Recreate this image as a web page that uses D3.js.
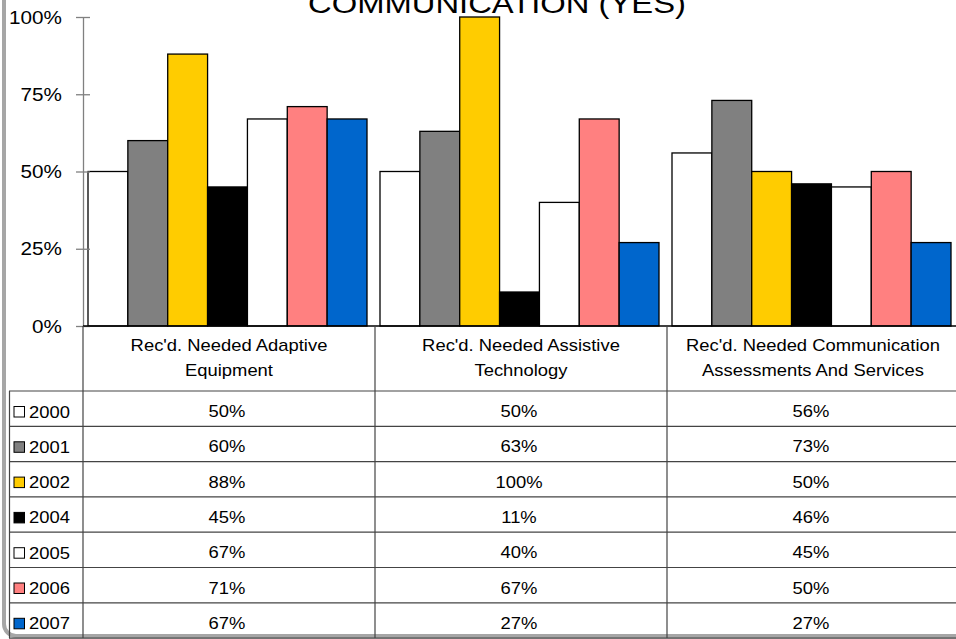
<!DOCTYPE html>
<html>
<head>
<meta charset="utf-8">
<script src="https://cdn.jsdelivr.net/npm/d3@7"></script>
<style>
  html, body { margin: 0; padding: 0; background: #fff; }
  svg { display: block; font-family: "Liberation Sans", Arial, sans-serif; }
</style>
</head>
<body>
<script>
// Categories, series and values
const categories = [
  ["Rec'd. Needed Adaptive", "Equipment"],
  ["Rec'd. Needed Assistive", "Technology"],
  ["Rec'd. Needed Communication", "Assessments And Services"]
];
const years = ["2000", "2001", "2002", "2004", "2005", "2006", "2007"];
const colors = ["#FFFFFF", "#808080", "#FFCC00", "#000000", "#FFFFFF", "#FF8080", "#0066CC"];
const v2000 = [50, 50, 56];
const v2001 = [60, 63, 73];
const v2002 = [88, 100, 50];
const v2004 = [45, 11, 46];
const v2005 = [67, 40, 45];
const v2006 = [71, 67, 50];
const v2007 = [67, 27, 27];
const series = [v2000, v2001, v2002, v2004, v2005, v2006, v2007];
const yTicks = [0, 25, 50, 75, 100];
const title = "COMMUNICATION (YES)";

const W = 956, H = 639;
const svg = d3.select("body").append("svg").attr("width", W).attr("height", H);

// stretched text helper (wide GDI-like lettering)
const SX = 1.15;
function stretched(parent, x, y, txt, size, anchor, k = SX) {
  return parent.append("text")
    .attr("transform", `translate(${x},${y}) scale(${k},1)`)
    .attr("text-anchor", anchor || "middle")
    .attr("font-size", size)
    .attr("fill", "#000")
    .text(txt);
}

const x0 = d3.scaleBand().domain(d3.range(categories.length)).range([83, 959]);
const x1 = d3.scaleBand().domain(years).range([5, 284]);
const y = d3.scaleLinear().domain([0, 100]).range([326, 17]);

// outer frame
svg.append("rect")
  .attr("x", 4).attr("y", -30).attr("width", 1000).attr("height", 666)
  .attr("rx", 12).attr("fill", "none")
  .attr("stroke", "#a6a6a6").attr("stroke-width", 4);

// title
stretched(svg, 497, 13, title, 28, "middle", 1.17);

// bars
const groups = svg.append("g").selectAll("g")
  .data(categories.map((c, i) => i))
  .join("g")
  .attr("transform", i => `translate(${x0(i)},0)`);

groups.selectAll("rect")
  .data(i => years.map((yr, j) => ({ yr, j, v: series[j][i] })))
  .join("rect")
  .attr("x", d => x1(d.yr))
  .attr("y", d => y(d.v))
  .attr("width", x1.bandwidth())
  .attr("height", d => y(0) - y(d.v))
  .attr("fill", d => colors[d.j])
  .attr("stroke", "#000")
  .attr("stroke-width", 1.3);

// y axis
const axis = svg.append("g")
  .attr("transform", "translate(83,0)")
  .call(d3.axisLeft(y).tickValues(yTicks).tickFormat(d => d + "%")
    .tickSize(7).tickSizeOuter(0).tickPadding(14));
axis.select(".domain").attr("stroke", "#808080").attr("stroke-width", 1.3);
axis.selectAll(".tick line").attr("x1", 7).attr("x2", -7)
  .attr("stroke", "#808080").attr("stroke-width", 1.3);
axis.selectAll(".tick text")
  .attr("font-size", 18)
  .attr("font-family", "Liberation Sans, Arial, sans-serif")
  .attr("fill", "#000")
  .attr("dy", null)
  .attr("x", null)
  .attr("transform", `translate(-21,6) scale(${SX},1)`);

// baseline
svg.append("line")
  .attr("x1", 83).attr("x2", 959)
  .attr("y1", y(0)).attr("y2", y(0))
  .attr("stroke", "#000").attr("stroke-width", 1.3);

// data table
const rowTop = 391, rowH = 35.3;
const tableBottom = rowTop + rowH * years.length;
const lineColor = "#444";
const tbl = svg.append("g");

// horizontal rules
tbl.selectAll("line.h")
  .data(d3.range(years.length + 1))
  .join("line")
  .attr("class", "h")
  .attr("x1", 9).attr("x2", W)
  .attr("y1", i => rowTop + i * rowH).attr("y2", i => rowTop + i * rowH)
  .attr("stroke", lineColor).attr("stroke-width", 1.2);

// vertical rules
tbl.append("line").attr("x1", 9.5).attr("x2", 9.5)
  .attr("y1", rowTop).attr("y2", tableBottom)
  .attr("stroke", lineColor).attr("stroke-width", 1.2);
tbl.selectAll("line.v")
  .data(categories.map((c, i) => i))
  .join("line")
  .attr("class", "v")
  .attr("x1", i => x0(i)).attr("x2", i => x0(i))
  .attr("y1", y(0)).attr("y2", tableBottom)
  .attr("stroke", lineColor).attr("stroke-width", 1.2);

// column headers
categories.forEach((lines, i) => {
  const cx = x0(i) + x0.bandwidth() / 2;
  lines.forEach((ln, k) => stretched(tbl, cx, 351 + k * 25, ln, 16, "middle"));
});

// row labels with colour keys
years.forEach((yr, j) => {
  const top = rowTop + j * rowH;
  tbl.append("rect")
    .attr("x", 14).attr("y", top + 15.5)
    .attr("width", 10.5).attr("height", 10.5)
    .attr("fill", colors[j]).attr("stroke", "#000").attr("stroke-width", 1);
  stretched(tbl, 29, top + 26.5, yr, 16, "start");
  categories.forEach((c, i) => {
    const cx = x0(i) + x0.bandwidth() / 2;
    stretched(tbl, cx - 2, top + 26, series[j][i] + "%", 16, "middle");
  });
});
</script>
</body>
</html>
